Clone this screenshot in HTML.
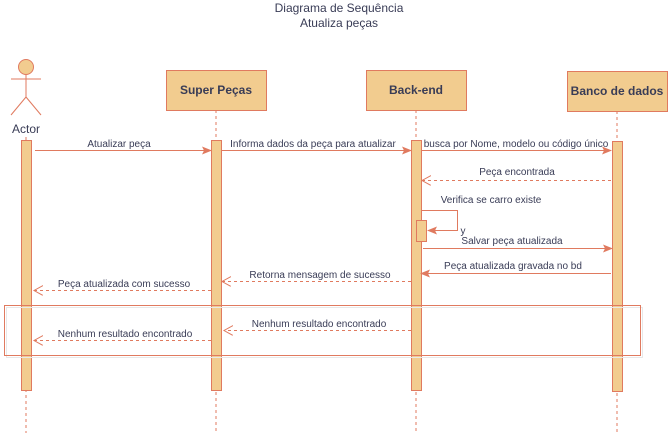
<!DOCTYPE html>
<html><head><meta charset="utf-8"><style>html,body{margin:0;padding:0;background:#fff}svg{display:block}</style></head><body>
<svg width="668" height="433" viewBox="0 0 668 433" xmlns="http://www.w3.org/2000/svg" font-family="Liberation Sans, sans-serif">
<defs>
<marker id="f" markerWidth="10" markerHeight="8" refX="9" refY="4" orient="auto" markerUnits="userSpaceOnUse"><path d="M0,0 L10,4 L0,8 L2,4 Z" fill="#E07A5F"/></marker>
<marker id="o" markerWidth="11" markerHeight="11" refX="9" refY="5" orient="auto" markerUnits="userSpaceOnUse"><path d="M0,0 L9,5 L0,10" fill="none" stroke="#E07A5F"/></marker>
</defs>
<g fill="#393C56" font-size="12" text-anchor="middle">
<text x="339" y="12">Diagrama de Sequência</text>
<text x="339" y="27">Atualiza peças</text>
</g>
<g stroke="#E07A5F" stroke-dasharray="3,3" fill="none">
<line x1="26" y1="137" x2="26" y2="433"/>
<line x1="216" y1="110" x2="216" y2="433"/>
<line x1="416" y1="110" x2="416" y2="433"/>
<line x1="617" y1="111" x2="617" y2="433"/>
</g>
<g stroke="#E07A5F" fill="none">
<circle cx="26" cy="67" r="7.5" fill="#F2CC8F"/>
<line x1="26" y1="75" x2="26" y2="97"/>
<line x1="11" y1="79" x2="41" y2="79"/>
<line x1="26" y1="97" x2="11" y2="115"/>
<line x1="26" y1="97" x2="41" y2="115"/>
</g>
<text x="26" y="133" font-size="12" fill="#393C56" text-anchor="middle">Actor</text>
<g fill="#F2CC8F" stroke="#E07A5F">
<rect x="166.5" y="70.5" width="100" height="40"/>
<rect x="366.5" y="70.5" width="100" height="40"/>
<rect x="567.5" y="71.5" width="100" height="40"/>
</g>
<g fill="#393C56" font-size="12" font-weight="bold" text-anchor="middle">
<text x="216" y="94">Super Peças</text>
<text x="416" y="94">Back-end</text>
<text x="617" y="95">Banco de dados</text>
</g>
<g fill="#F2CC8F" stroke="#E07A5F">
<rect x="21.5" y="140.5" width="10" height="250"/>
<rect x="211.5" y="140.5" width="10" height="250"/>
<rect x="411.5" y="140.5" width="10" height="250"/>
<rect x="612.5" y="141.5" width="10" height="250"/>
<rect x="416.5" y="220.5" width="10" height="21"/>
</g>
<rect x="6.5" y="307.5" width="636" height="50" fill="none" stroke="#e8e8e8"/>
<rect x="4.5" y="305.5" width="636" height="50" fill="none" stroke="#E07A5F"/>
<g stroke="#E07A5F" fill="none">
<line x1="35" y1="150.5" x2="211" y2="150.5" marker-end="url(#f)"/>
<line x1="221" y1="150.5" x2="411" y2="150.5" marker-end="url(#f)"/>
<line x1="421" y1="150.5" x2="611" y2="150.5" marker-end="url(#f)"/>
<line x1="611" y1="180.5" x2="422" y2="180.5" stroke-dasharray="3,3" marker-end="url(#o)" />
<polyline points="421,210.5 457.5,210.5 457.5,230.5 428,230.5" marker-end="url(#f)"/>
<line x1="423" y1="248.5" x2="612" y2="248.5" marker-end="url(#f)"/>
<line x1="611" y1="273.5" x2="421" y2="273.5" marker-end="url(#f)"/>
<line x1="411" y1="281.5" x2="222" y2="281.5" stroke-dasharray="3,3" marker-end="url(#o)"/>
<line x1="211" y1="290.5" x2="34" y2="290.5" stroke-dasharray="3,3" marker-end="url(#o)"/>
<line x1="411" y1="330.5" x2="224" y2="330.5" stroke-dasharray="3,3" marker-end="url(#o)"/>
<line x1="211" y1="340.5" x2="34" y2="340.5" stroke-dasharray="3,3" marker-end="url(#o)"/>
</g>
<g fill="#393C56" font-size="10" text-anchor="middle">
<text x="119" y="147">Atualizar peça</text>
<text x="313" y="147">Informa dados da peça para atualizar</text>
<text x="516" y="147">busca por Nome, modelo ou código único</text>
<text x="517" y="175">Peça encontrada</text>
<text x="491" y="203">Verifica se carro existe</text>
<text x="463" y="234">y</text>
<text x="512" y="244">Salvar peça atualizada</text>
<text x="513" y="269">Peça atualizada gravada no bd</text>
<text x="320" y="278">Retorna mensagem de sucesso</text>
<text x="124" y="287">Peça atualizada com sucesso</text>
<text x="319" y="327">Nenhum resultado encontrado</text>
<text x="125" y="337">Nenhum resultado encontrado</text>
</g>
</svg>
</body></html>
